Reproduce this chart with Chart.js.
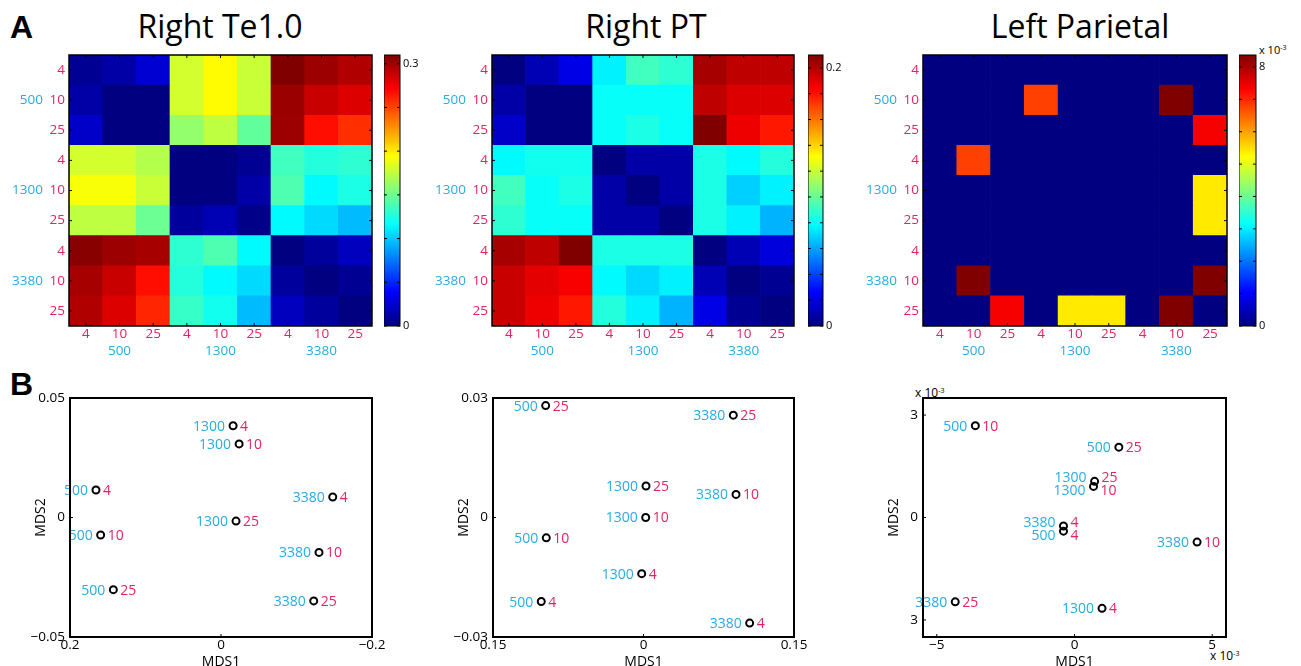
<!DOCTYPE html>
<html>
<head>
<meta charset="utf-8">
<script src="https://cdn.jsdelivr.net/npm/chart.js@4.4.0/dist/chart.umd.min.js"></script>
<style>
  html, body { margin: 0; padding: 0; background: #fff; overflow: hidden; width: 1301px; height: 666px; }
  body { position: relative; font-family: 'Open Sans', sans-serif; color: #000; }
  canvas { position: absolute; }
  .title { position: absolute; font-size: 32px; line-height: 32px; white-space: nowrap; transform: translateX(-50%); }
  .panel { position: absolute; font-family: 'Liberation Sans', Arial, sans-serif; font-weight: bold; font-size: 32px; line-height: 32px; }
  .exp { position: absolute; font-size: 11px; line-height: 11px; white-space: nowrap; }
  .exp sup { font-size: 7px; vertical-align: 4px; }
</style>
</head>
<body>
<div class="panel" style="left:10px;top:11px">A</div>
<div class="panel" style="left:10px;top:368px">B</div>
<div class="title" style="left:220px;top:10px">Right Te1.0</div>
<div class="title" style="left:646px;top:10px">Right PT</div>
<div class="title" style="left:1080px;top:10px">Left Parietal</div>
<div class="exp" style="left:1259px;top:42px">x 10<sup>-3</sup></div>
<div class="exp" style="left:915px;top:385px;font-size:12px">x 10<sup>-3</sup></div>
<div class="exp" style="left:1210px;top:648px;font-size:12px">x 10<sup>-3</sup></div>
<script>
const freqs = ['500', '1300', '3380'];
const rates = ['4', '10', '25'];

// dissimilarity matrices, rows/cols = 500-4, 500-10, 500-25, 1300-4 ... 3380-25
const teValues = [
  [0.006, 0.012, 0.025, 0.180, 0.195, 0.177, 0.310, 0.301, 0.295],
  [0.012, 0.000, 0.000, 0.180, 0.195, 0.177, 0.302, 0.288, 0.282],
  [0.022, 0.000, 0.000, 0.161, 0.174, 0.146, 0.301, 0.267, 0.257],
  [0.180, 0.180, 0.171, 0.000, 0.000, 0.006, 0.136, 0.127, 0.130],
  [0.192, 0.192, 0.177, 0.000, 0.000, 0.012, 0.140, 0.115, 0.124],
  [0.174, 0.174, 0.149, 0.009, 0.016, 0.003, 0.115, 0.105, 0.096],
  [0.307, 0.301, 0.298, 0.130, 0.140, 0.115, 0.000, 0.009, 0.019],
  [0.298, 0.288, 0.267, 0.127, 0.115, 0.105, 0.009, 0.000, 0.006],
  [0.295, 0.282, 0.260, 0.133, 0.121, 0.096, 0.019, 0.009, 0.000]
];
const ptValues = [
  [0.000, 0.011, 0.021, 0.076, 0.092, 0.088, 0.202, 0.197, 0.197],
  [0.008, 0.000, 0.000, 0.080, 0.080, 0.080, 0.197, 0.191, 0.191],
  [0.015, 0.000, 0.000, 0.080, 0.084, 0.080, 0.210, 0.187, 0.179],
  [0.078, 0.082, 0.082, 0.000, 0.008, 0.008, 0.084, 0.078, 0.086],
  [0.092, 0.080, 0.084, 0.008, 0.000, 0.008, 0.084, 0.069, 0.076],
  [0.088, 0.080, 0.080, 0.008, 0.008, 0.000, 0.084, 0.076, 0.063],
  [0.202, 0.197, 0.210, 0.084, 0.084, 0.084, 0.000, 0.011, 0.019],
  [0.195, 0.189, 0.185, 0.078, 0.071, 0.076, 0.011, 0.000, 0.004],
  [0.195, 0.187, 0.179, 0.086, 0.076, 0.063, 0.021, 0.004, 0.000]
];
const parietalValues = [
  [0, 0, 0, 0, 0, 0, 0, 0, 0],
  [0, 0, 0, 0.0068, 0, 0, 0, 0.00837, 0],
  [0, 0, 0, 0, 0, 0, 0, 0, 0.0074],
  [0, 0.0068, 0, 0, 0, 0, 0, 0, 0],
  [0, 0, 0, 0, 0, 0, 0, 0, 0.0054],
  [0, 0, 0, 0, 0, 0, 0, 0, 0.0054],
  [0, 0, 0, 0, 0, 0, 0, 0, 0],
  [0, 0.00837, 0, 0, 0, 0, 0, 0, 0.00837],
  [0, 0, 0.0074, 0, 0.0054, 0.0054, 0, 0.00837, 0]
];
const teMax = 0.31, ptMax = 0.21, parietalMax = 0.00837;

// MDS coordinates, same condition order
const teMds1 = [0.1656, 0.1594, 0.1426, -0.016, -0.024, -0.0199, -0.148, -0.1298, -0.1228];
const teMds2 = [0.0115, -0.0073, -0.0302, 0.0384, 0.0308, -0.0015, 0.0086, -0.0146, -0.0349];
const ptMds1 = [-0.1019, -0.0969, -0.0975, -0.0018, 0.0022, 0.0025, 0.1058, 0.0922, 0.0895];
const ptMds2 = [-0.0211, -0.0051, 0.0281, -0.0141, 0.0000, 0.0079, -0.0265, 0.0058, 0.0257];
const parMds1 = [-0.0004, -0.0036, 0.00161, 0.0010, 0.00069, 0.00073, -0.0004, 0.00445, -0.00433];
const parMds2 = [-0.0004, 0.00269, 0.00206, -0.00266, 0.00091, 0.00106, -0.00025, -0.00072, -0.00247];

const pink = '#e3245f';
const blue = '#29abe2';

const conditions = [];
freqs.forEach(f => rates.forEach(r => conditions.push({ freq: f, rate: r })));
const xRateLabels = conditions.map(c => c.rate);
const xFreqLabels = conditions.map((c, i) => (i % 3 === 1 ? c.freq : ''));
const rowCenters = [0.5, 1.5, 2.5, 3.5, 4.5, 5.5, 6.5, 7.5, 8.5];
const rowRateLabels = xRateLabels.slice().reverse();
const groupCenters = [1.5, 4.5, 7.5];
const groupLabels = freqs.slice().reverse();

Chart.defaults.font.family = "'Open Sans', sans-serif";
Chart.defaults.font.size = 13.5;
Chart.defaults.color = '#000';
Chart.defaults.animation = false;
Chart.defaults.responsive = false;
Chart.defaults.events = [];
Chart.defaults.plugins.legend.display = false;
Chart.defaults.plugins.tooltip.enabled = false;

function jet(t) {
  t = Math.max(0, Math.min(1, t));
  const c = v => Math.round(255 * Math.max(0, Math.min(1, v)));
  return `rgb(${c(1.5 - Math.abs(4 * t - 3))},${c(1.5 - Math.abs(4 * t - 2))},${c(1.5 - Math.abs(4 * t - 1))})`;
}

function addCanvas(left, top, w, h) {
  const c = document.createElement('canvas');
  c.width = w; c.height = h;
  c.style.left = left + 'px'; c.style.top = top + 'px';
  c.style.width = w + 'px'; c.style.height = h + 'px';
  document.body.appendChild(c);
  return c;
}

const fitTo = size => s => {
  if (s.isHorizontal()) s.height = size; else s.width = size;
  s.paddingLeft = s.paddingRight = s.paddingTop = s.paddingBottom = 0;
};
const setTicks = vals => s => { s.ticks = vals.map(v => ({ value: v })); };
const noGrid = { grid: { display: false, drawTicks: false }, border: { display: false } };

// box frame and small inward tick marks, MATLAB style
const framePlugin = {
  id: 'frame',
  afterDraw(chart, args, opts) {
    const { ctx, chartArea: a, scales } = chart;
    const len = opts.len || 3;
    ctx.save();
    ctx.strokeStyle = '#000';
    ctx.lineWidth = 1;
    ctx.beginPath();
    (opts.xTicks || []).forEach(v => {
      const px = scales.x.getPixelForValue(v);
      ctx.moveTo(px, a.bottom); ctx.lineTo(px, a.bottom - len);
      if (opts.allSides) { ctx.moveTo(px, a.top); ctx.lineTo(px, a.top + len); }
    });
    (opts.yTicks || []).forEach(v => {
      const py = scales.y.getPixelForValue(v);
      ctx.moveTo(a.left, py); ctx.lineTo(a.left + len, py);
      if (opts.allSides) { ctx.moveTo(a.right, py); ctx.lineTo(a.right - len, py); }
    });
    ctx.stroke();
    ctx.lineWidth = opts.width || 1;
    ctx.strokeRect(a.left, a.top, a.right - a.left, a.bottom - a.top);
    ctx.restore();
  }
};

function makeHeatmap(plotLeft, plotW, values, vmax) {
  const canvas = addCanvas(plotLeft - 69, 50, 69 + plotW + 8, 320);
  const datasets = [];
  for (let k = 0; k < 9; k++) {
    const row = values[8 - k];
    datasets.push({
      data: row.map(() => 1),
      backgroundColor: row.map(v => jet(v / vmax)),
      borderWidth: 0,
      barPercentage: 1,
      categoryPercentage: 1,
      xAxisID: 'x',
      yAxisID: 'y'
    });
  }
  new Chart(canvas, {
    type: 'bar',
    data: { labels: xRateLabels, datasets },
    plugins: [framePlugin],
    options: {
      layout: { padding: { top: 5, right: 8, left: 0, bottom: 0 } },
      plugins: { frame: { width: 1.5, len: 3, allSides: true, xTicks: conditions.map((c, i) => i), yTicks: rowCenters } },
      scales: {
        x: { ...noGrid, stacked: true, weight: 0, afterFit: fitTo(17),
             ticks: { color: pink, padding: 0, autoSkip: false, maxRotation: 0 } },
        x2: { ...noGrid, type: 'category', position: 'bottom', labels: xFreqLabels, offset: true, weight: 1,
              afterFit: fitTo(27), ticks: { color: blue, padding: 0, autoSkip: false, maxRotation: 0 } },
        y: { ...noGrid, stacked: true, min: 0, max: 9, weight: 0, afterFit: fitTo(25),
             afterBuildTicks: setTicks(rowCenters),
             ticks: { color: pink, padding: 4, autoSkip: false, callback: (v, i) => rowRateLabels[i] } },
        y2: { ...noGrid, type: 'linear', position: 'left', min: 0, max: 9, weight: 1, afterFit: fitTo(44),
              afterBuildTicks: setTicks(groupCenters),
              ticks: { color: blue, padding: 1, autoSkip: false, callback: (v, i) => groupLabels[i] } }
      }
    }
  });
}

function makeColorbar(barLeft, barW, vmax, labelVals, minorVals, fmt) {
  const canvas = addCanvas(barLeft, 50, barW + 30, 320);
  new Chart(canvas, {
    type: 'bar',
    data: {
      labels: [''],
      datasets: [{
        data: [vmax],
        borderWidth: 0,
        barPercentage: 1,
        categoryPercentage: 1,
        backgroundColor: c => {
          const a = c.chart.chartArea;
          if (!a) return '#000080';
          const g = c.chart.ctx.createLinearGradient(0, a.bottom, 0, a.top);
          [0, 0.125, 0.375, 0.625, 0.875, 1].forEach(t => g.addColorStop(t, jet(t)));
          return g;
        }
      }]
    },
    plugins: [framePlugin],
    options: {
      layout: { padding: { top: 5, right: 0, left: 0, bottom: 44 } },
      plugins: { frame: { width: 1, len: 3, allSides: true, yTicks: minorVals } },
      scales: {
        x: { display: false },
        y: { ...noGrid, position: 'right', min: 0, max: vmax, afterFit: fitTo(30),
             afterBuildTicks: setTicks(labelVals),
             ticks: { padding: 3, font: { size: 11 }, autoSkip: false, callback: fmt } }
      }
    }
  });
}

const labelPlugin = {
  id: 'pointLabels',
  afterDatasetsDraw(chart) {
    const ctx = chart.ctx;
    const pts = chart.getDatasetMeta(0).data.map(p => ({ x: p.x, y: p.y, ly: p.y }));
    // spread the labels of nearly overlapping points
    for (let i = 0; i < pts.length; i++) {
      for (let j = i + 1; j < pts.length; j++) {
        const a = pts[i], b = pts[j];
        if (Math.abs(a.x - b.x) < 10 && Math.abs(a.y - b.y) < 13) {
          const mid = (a.y + b.y) / 2;
          const up = a.y < b.y ? a : b, down = a.y < b.y ? b : a;
          up.ly = mid - 6.5; down.ly = mid + 6.5;
        }
      }
    }
    ctx.save();
    ctx.font = "14px 'Open Sans'";
    ctx.textBaseline = 'middle';
    pts.forEach((p, i) => {
      ctx.fillStyle = blue; ctx.textAlign = 'right';
      ctx.fillText(conditions[i].freq, p.x - 8, p.ly + 1);
      ctx.fillStyle = pink; ctx.textAlign = 'left';
      ctx.fillText(conditions[i].rate, p.x + 7, p.ly + 1);
    });
    ctx.restore();
  }
};

const signed = v => (v < 0 ? '\u2212' : '') + Math.abs(v);

function makeScatter(plotLeft, plotW, xs, ys, xr, yr, xTicks, yTicks, xFmt, yFmt, reverse) {
  const canvas = addCanvas(plotLeft - 70, 380, 70 + plotW + 20, 310);
  new Chart(canvas, {
    type: 'scatter',
    data: {
      datasets: [{
        data: xs.map((x, i) => ({ x, y: ys[i] })),
        pointRadius: 3.5,
        borderWidth: 2,
        borderColor: '#000',
        backgroundColor: 'rgba(0,0,0,0)'
      }]
    },
    plugins: [framePlugin, labelPlugin],
    options: {
      layout: { padding: { top: 18, right: 20, left: 0, bottom: 0 } },
      plugins: { frame: { width: 2, len: 3, xTicks, yTicks } },
      scales: {
        x: { ...noGrid, type: 'linear', min: xr[0], max: xr[1], reverse: !!reverse, afterFit: fitTo(53),
             afterBuildTicks: setTicks(xTicks),
             ticks: { padding: 0, autoSkip: false, maxRotation: 0, callback: xFmt },
             title: { display: true, text: 'MDS1', font: { size: 14 }, padding: { top: 0, bottom: 20 } } },
        y: { ...noGrid, type: 'linear', min: yr[0], max: yr[1], afterFit: fitTo(70),
             afterBuildTicks: setTicks(yTicks),
             ticks: { padding: 5, autoSkip: false, callback: yFmt },
             title: { display: true, text: 'MDS2', font: { size: 14 }, padding: { top: 33, bottom: 0 } } }
      }
    }
  });
}

makeHeatmap(69, 303, teValues, teMax);
makeHeatmap(492, 302, ptValues, ptMax);
makeHeatmap(923, 304, parietalValues, parietalMax);

makeColorbar(384, 16, teMax, [0, 0.3], [0, 0.05, 0.1, 0.15, 0.2, 0.25, 0.3], v => String(v));
makeColorbar(808, 15, ptMax, [0, 0.2], [0, 0.02, 0.04, 0.06, 0.08, 0.1, 0.12, 0.14, 0.16, 0.18, 0.2], v => String(v));
makeColorbar(1239, 17, parietalMax, [0, 0.008], [0, 0.001, 0.002, 0.003, 0.004, 0.005, 0.006, 0.007, 0.008], v => String(Math.round(v * 1000)));

makeScatter(70, 302, teMds1, teMds2, [-0.2, 0.2], [-0.05, 0.05], [-0.2, 0, 0.2], [-0.05, 0, 0.05], signed, signed, true);
makeScatter(493, 301, ptMds1, ptMds2, [-0.15, 0.15], [-0.03, 0.03], [-0.15, 0, 0.15], [-0.03, 0, 0.03], v => String(Math.abs(v)), signed);
makeScatter(923, 303, parMds1, parMds2, [-0.0055, 0.0055], [-0.0035, 0.0035], [-0.005, 0, 0.005], [-0.003, 0, 0.003],
  v => signed(Math.round(v * 1000)), v => String(Math.abs(Math.round(v * 1000))));
</script>
</body>
</html>
